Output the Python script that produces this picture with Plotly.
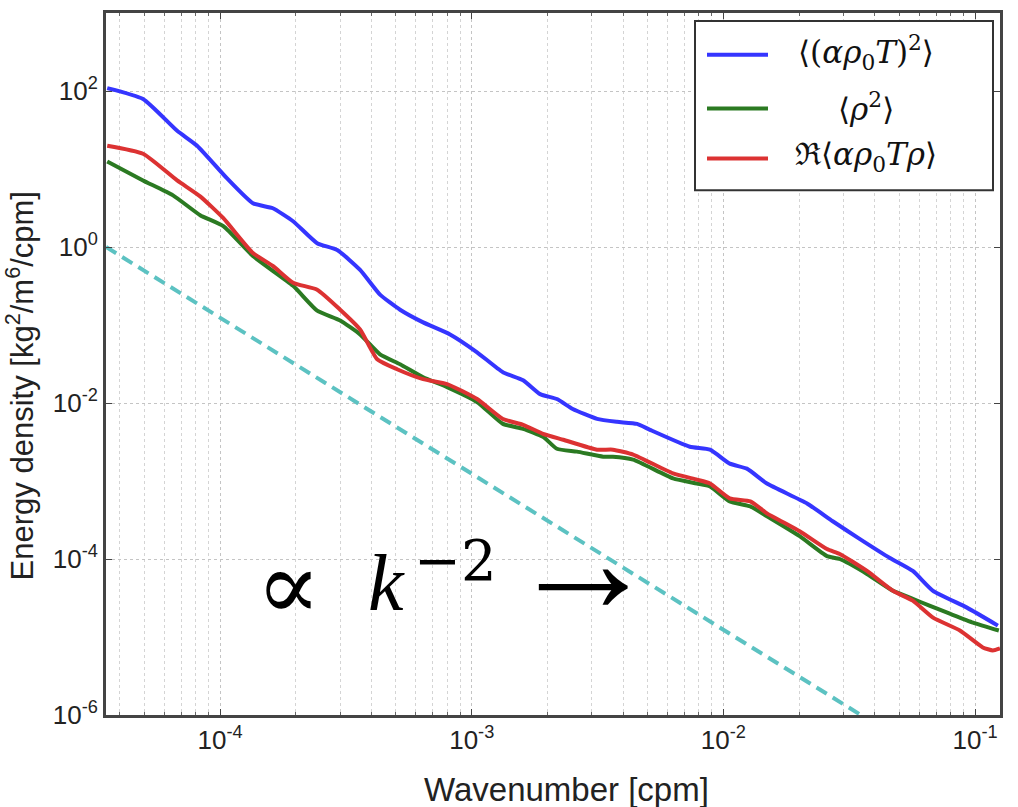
import numpy as np
import plotly.graph_objects as go

# Wavenumber [cpm] and energy density values for each spectrum
k_temp = [3.56e-5, 4.94e-5, 6.75e-5, 8.10e-5, 1.066e-4, 1.35e-4, 1.62e-4, 1.95e-4, 2.43e-4,
          2.92e-4, 3.60e-4, 4.32e-4, 5.19e-4, 6.41e-4, 8.20e-4, 1.05e-3, 1.33e-3, 1.60e-3,
          1.87e-3, 2.18e-3, 2.52e-3, 3.15e-3, 3.78e-3, 4.54e-3, 5.11e-3, 7.36e-3, 8.85e-3,
          1.06e-2, 1.24e-2, 1.49e-2, 2.15e-2, 2.72e-2, 3.49e-2, 4.59e-2, 5.66e-2, 6.81e-2,
          9.29e-2, 0.1233]
e_temp = [109, 79, 30.9, 19.9, 7.57, 3.64, 3.14, 2.14, 1.12,
          0.916, 0.509, 0.245, 0.157, 0.108, 0.0757, 0.0447, 0.0248, 0.0196,
          0.0130, 0.01125, 0.00839, 0.00625, 0.00573, 0.00540, 0.00453, 0.00275, 0.00252,
          0.00167, 0.00144, 9.29e-4, 5.16e-4, 3.05e-4, 1.80e-4, 1.03e-4, 7.03e-5, 3.91e-5,
          2.38e-5, 1.40e-5]

k_rho = [3.56e-5, 4.94e-5, 6.50e-5, 8.33e-5, 1.03e-4, 1.35e-4, 1.95e-4, 2.43e-4, 3.00e-4,
         3.60e-4, 4.32e-4, 5.19e-4, 6.41e-4, 7.98e-4, 1.05e-3, 1.33e-3, 1.60e-3, 1.92e-3,
         2.18e-3, 2.62e-3, 3.33e-3, 3.64e-3, 4.38e-3, 6.31e-3, 7.85e-3, 8.85e-3, 1.06e-2,
         1.28e-2, 1.49e-2, 2.01e-2, 2.58e-2, 2.90e-2, 3.72e-2, 4.72e-2, 5.66e-2, 6.59e-2,
         7.94e-2, 9.82e-2, 0.1244]
e_rho = [12.5, 7.14, 4.59, 2.56, 1.85, 0.767, 0.318, 0.153, 0.114,
         0.0757, 0.0421, 0.0314, 0.0214, 0.0160, 0.0103, 0.00540, 0.00467, 0.00369,
         0.00259, 0.00238, 0.00205, 0.00205, 0.00188, 0.00108, 9.29e-4, 8.51e-4, 5.48e-4,
         4.73e-4, 3.53e-4, 1.96e-4, 1.09e-4, 1.00e-4, 6.44e-5, 3.91e-5, 3.09e-5, 2.52e-5,
         1.99e-5, 1.53e-5, 1.21e-5]

k_cross = [3.56e-5, 4.94e-5, 6.75e-5, 8.33e-5, 1.03e-4, 1.35e-4, 1.62e-4, 1.95e-4, 2.43e-4,
           3.00e-4, 3.60e-4, 4.21e-4, 5.05e-4, 6.41e-4, 7.98e-4, 1.05e-3, 1.33e-3, 1.60e-3,
           1.92e-3, 2.31e-3, 3.15e-3, 3.64e-3, 4.38e-3, 6.31e-3, 7.85e-3, 8.85e-3, 1.06e-2,
           1.28e-2, 1.49e-2, 2.01e-2, 2.58e-2, 2.90e-2, 3.72e-2, 4.72e-2, 5.66e-2, 6.81e-2,
           8.71e-2, 0.1074, 0.1178, 0.1257]
e_cross = [19.9, 15.7, 7.14, 4.46, 2.34, 0.839, 0.573, 0.348, 0.283,
           0.157, 0.0877, 0.0364, 0.0271, 0.0202, 0.0175, 0.01125, 0.00625, 0.00525,
           0.00403, 0.00338, 0.00252, 0.00252, 0.00218, 0.00125, 0.00104, 9.29e-4, 5.98e-4,
           5.48e-4, 3.85e-4, 2.27e-4, 1.34e-4, 1.16e-4, 7.03e-5, 3.91e-5, 2.92e-5, 1.77e-5,
           1.21e-5, 7.35e-6, 6.73e-6, 7.14e-6]

# Reference k^-2 slope: E = 1 at the lowest wavenumber shown
k_ref = [3.52e-5, 0.0352]
e_ref = [1.0 * (k / k_ref[0]) ** -2 for k in k_ref]

legend_labels = [
    "⟨(<i>αρ</i><sub>0</sub><i>T</i>)<sup>2</sup>⟩",
    "⟨<i>ρ</i><sup>2</sup>⟩",
    "ℜ⟨<i>αρ</i><sub>0</sub><i>Tρ</i>⟩",
]
colors = ["#3535ff", "#2b7a22", "#dc3232"]

x_major = [1e-4, 1e-3, 1e-2, 1e-1]
x_major_text = ["10<sup>-4</sup>", "10<sup>-3</sup>", "10<sup>-2</sup>", "10<sup>-1</sup>"]
y_major = [1e-6, 1e-4, 1e-2, 1e0, 1e2]
y_major_text = ["10<sup>-6</sup>", "10<sup>-4</sup>", "10<sup>-2</sup>", "10<sup>0</sup>", "10<sup>2</sup>"]
x_minor = [m * 10.0 ** e for e in range(-5, 0) for m in range(2, 10)]

fig = go.Figure()
fig.add_trace(go.Scatter(x=k_ref, y=e_ref, mode="lines",
                         line=dict(color="#5cc2c2", width=4, dash="12px,7px"),
                         showlegend=False))
for k, e, c in [(k_temp, e_temp, colors[0]), (k_rho, e_rho, colors[1]), (k_cross, e_cross, colors[2])]:
    fig.add_trace(go.Scatter(x=k, y=e, mode="lines",
                             line=dict(color=c, width=4, shape="spline", smoothing=0.5),
                             showlegend=False))

W, H = 1018, 807
L, R, T, B = 106, 18, 10, 92
pw, ph = W - L - R, H - T - B


def px(xp):
    return (xp - L) / pw


def py(yp):
    return 1 - (yp - T) / ph


tick_font = dict(family="Liberation Sans, Arial, sans-serif", size=26, color="#222")
math_font = "DejaVu Serif, Liberation Serif, serif"
thin_serif = "Liberation Serif, DejaVu Serif, serif"
grid = dict(showgrid=True, gridcolor="#c4c4c4", griddash="dot", gridwidth=1)

fig.update_xaxes(type="log", range=[np.log10(3.52e-5), np.log10(0.1257)],
                 tickvals=x_major, ticktext=x_major_text, tickfont=tick_font,
                 ticks="inside", ticklen=6, tickcolor="#444", mirror="allticks",
                 showline=True, linecolor="#444", linewidth=3, zeroline=False,
                 minor=dict(tickmode="array", tickvals=x_minor, ticks="inside", ticklen=3,
                            tickcolor="#666", showgrid=True, gridcolor="#d4d4d4", griddash="dot"),
                 **grid)
fig.update_yaxes(type="log", range=[-6, 3],
                 tickvals=y_major, ticktext=y_major_text, tickfont=tick_font,
                 ticks="inside", ticklen=6, tickcolor="#444", mirror="allticks",
                 showline=True, linecolor="#444", linewidth=3, zeroline=False,
                 **grid)

shapes = []
annotations = []

# Legend box
shapes.append(dict(type="rect", xref="paper", yref="paper",
                   x0=px(695), x1=px(993), y0=py(188), y1=py(18),
                   line=dict(color="#333", width=2), fillcolor="white", layer="above"))
for i, (lab, c) in enumerate(zip(legend_labels, colors)):
    yy = [52, 106, 156][i]
    shapes.append(dict(type="line", xref="paper", yref="paper",
                       x0=px(707), x1=px(768), y0=py(yy), y1=py(yy),
                       line=dict(color=c, width=4), layer="above"))
    annotations.append(dict(xref="paper", yref="paper", x=px(866), y=py(yy - 2),
                            text=lab, showarrow=False, xanchor="center", yanchor="middle",
                            font=dict(family=math_font, size=31, color="#111")))

# Slope label, piece by piece
slope_parts = [
    ("∝", 288, 586, 96, thin_serif),
    ("<i>k</i>", 386, 582, 80, thin_serif),
    ("−2", 455, 560, 56, math_font),
    ("→", 583, 560, 150, thin_serif),
]
for txt, xp, yp, sz, fam in slope_parts:
    annotations.append(dict(xref="paper", yref="paper", x=px(xp), y=py(yp),
                            text=txt, showarrow=False, xanchor="center", yanchor="middle",
                            font=dict(family=fam, size=sz, color="black")))

# Axis titles
annotations.append(dict(xref="paper", yref="paper", x=px(566), y=py(790),
                        text="Wavenumber [cpm]", showarrow=False,
                        xanchor="center", yanchor="middle",
                        font=dict(family="Liberation Sans, Arial, sans-serif", size=33, color="#222")))
annotations.append(dict(xref="paper", yref="paper", x=px(20), y=py(385),
                        text="Energy density [kg<sup>2</sup>/m<sup>6</sup>/cpm]", showarrow=False,
                        textangle=-90, xanchor="center", yanchor="middle",
                        font=dict(family="Liberation Sans, Arial, sans-serif", size=31, color="#222")))

fig.update_layout(width=W, height=H, margin=dict(l=L, r=R, t=T, b=B),
                  paper_bgcolor="white", plot_bgcolor="white",
                  shapes=shapes, annotations=annotations, showlegend=False)

fig.write_html("out.html")
